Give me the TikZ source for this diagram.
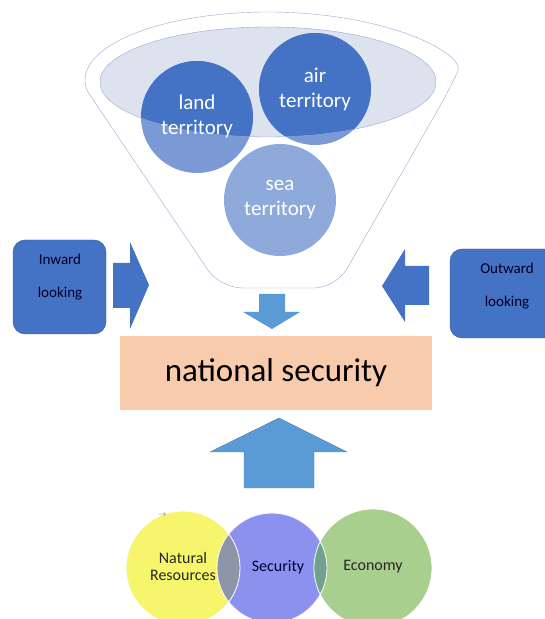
\documentclass[tikz,border=0pt]{standalone}
\usepackage{fontspec}
\setmainfont{Carlito}
\definecolor{offblue}{HTML}{4472C4}
\definecolor{paleblue}{HTML}{7B9AD5}
\definecolor{seablue}{HTML}{8EAADB}
\definecolor{arrowblue}{HTML}{5B9BD5}
\definecolor{ringfill}{HTML}{DDE2EF}
\definecolor{ringline}{HTML}{9AA9D2}
\definecolor{peach}{HTML}{F8CBAD}
\definecolor{resyellow}{HTML}{F6F56B}
\definecolor{secviolet}{HTML}{8C90EE}
\definecolor{ecogreen}{HTML}{A8CF8D}
\definecolor{mixgray}{HTML}{8E95A8}
\definecolor{mixteal}{HTML}{70A090}
\begin{document}
\begin{tikzpicture}[x=1pt, y=1pt,
        terrtext/.style={align=center, text=white, font=\fontsize{21}{25}\selectfont},
        sidebox/.style={draw=offblue!80!black, fill=offblue, rounded corners=12pt},
        sidetext/.style={align=center, text=black!85!blue, font=\fontsize{15}{33}\selectfont},
        blockarrow/.style={fill=offblue},
        vennlabel/.style={align=center, text=black!85, font=\fontsize{16}{17}\selectfont}]
        \useasboundingbox (0,0) rectangle (544,619);

        \draw[ringline, fill=white] (448.2,527.2) arc[start angle=-10, end angle=190, x radius=183, y radius=68]
            [rounded corners=22pt] -- (220,331) -- (336,331) -- cycle;
        \fill[ringfill] (268,537) ellipse[x radius=168, y radius=55];

        \fill[seablue] (280,419) circle[radius=56];
        \fill[paleblue] (197,502) circle[radius=56] (315,530) circle[radius=56];
        \begin{scope}
            \clip (268,537) ellipse[x radius=168, y radius=55];
            \fill[offblue] (197,502) circle[radius=56] (315,530) circle[radius=56];
        \end{scope}
        \draw[ringline] (268,537) ellipse[x radius=168, y radius=55];

        \node[terrtext] (land) at (197,503) {land\\territory};
        \node[terrtext] (air) at (315,530) {air\\territory};
        \node[terrtext] (sea) at (280,419) {sea\\territory};

        \node[sidebox, minimum width=93pt, minimum height=94pt] (inward) at (59.5,332) {};
        \node[sidetext] (inwardtext) at (60,342) {Inward\\looking};
        \node[sidebox, minimum width=110pt, minimum height=89pt] (outward) at (505,325.5) {};
        \node[sidetext] (outwardtext) at (507,333) {Outward\\looking};

        \fill[blockarrow] (113,356) -- (130,356) -- (130,377) -- (149,334) -- (130,290) -- (130,311) -- (113,311) -- cycle;
        \fill[blockarrow] (429,353) -- (405,353) -- (405,370) -- (382,333) -- (405,297) -- (405,314) -- (429,314) -- cycle;
        \fill[arrowblue] (259,325) -- (285,325) -- (285,307) -- (300,307) -- (272,290) -- (243,307) -- (259,307) -- cycle;

        \node[fill=peach, minimum width=312pt, minimum height=74pt, font=\fontsize{33}{36}\selectfont] (natsec) at (276,246) {national security};

        \draw[arrowblue!80!black, fill=arrowblue] (244,131) -- (314,131) -- (314,167) -- (347,167) -- (279,201) -- (210,167) -- (244,167) -- cycle;

        \fill[resyellow] (183,51) circle[radius=57];
        \fill[secviolet] (272,51) circle[radius=55];
        \fill[ecogreen] (373,51) circle[radius=59];
        \begin{scope}
            \clip (183,51) circle[radius=57];
            \fill[mixgray] (272,51) circle[radius=55];
        \end{scope}
        \begin{scope}
            \clip (373,51) circle[radius=59];
            \fill[mixteal] (272,51) circle[radius=55];
        \end{scope}
        \draw[white, line width=0.8pt] (183,51) circle[radius=57] (272,51) circle[radius=55] (373,51) circle[radius=59];

        \node[vennlabel] (resources) at (183,52.5) {Natural\\Resources};
        \node[vennlabel, text=black!80!blue] (security) at (278,52) {Security};
        \node[vennlabel] (economy) at (373,52) {Economy};
        \node[text=black!60, font=\fontsize{8}{8}\selectfont, inner sep=0pt] (mark) at (162,104) {$\rightarrow$};

    \end{tikzpicture}
\end{document}
